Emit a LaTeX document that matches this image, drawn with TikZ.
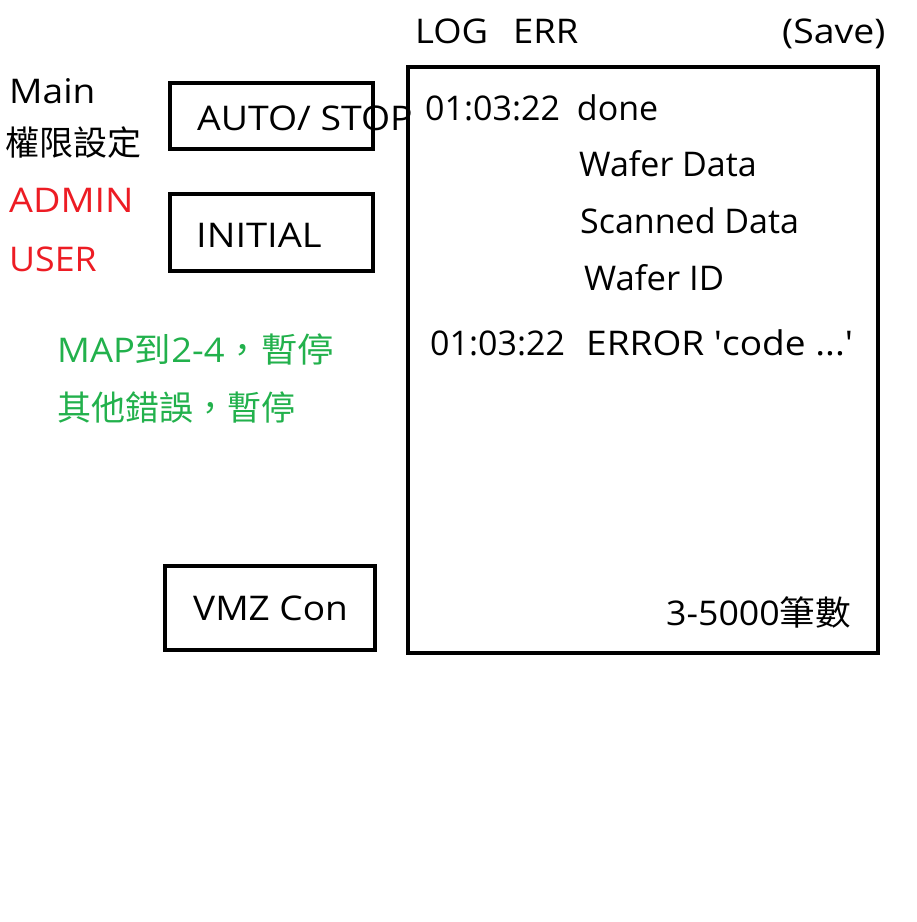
\documentclass[tikz,border=0pt]{standalone}
\usepackage{fontspec}
\setmainfont{Open Sans}
\newfontfamily\cjk{Noto Sans CJK TC}
\definecolor{pred}{HTML}{ED1C24}
\definecolor{pgreen}{HTML}{22B14C}
\newcommand{\widen}[2]{\scalebox{#1}[1]{#2}}
\begin{document}
\begin{tikzpicture}[x=1pt,y=-1pt,
  box/.style={draw=black,line width=4pt,rectangle,inner sep=0pt},
  txt/.style={anchor=base west,inner sep=0pt,font=\fontsize{34}{40}\selectfont}]
\useasboundingbox (0,0) rectangle (917,922);
\fill[white] (0,0) rectangle (917,922);
% boxes
\node[box,minimum width=203pt,minimum height=66pt] (auto) at (271.5,115.5) {};
\node[box,minimum width=203pt,minimum height=77pt] (init) at (271.5,232) {};
\node[box,minimum width=210pt,minimum height=84pt] (vmz) at (270,607.5) {};
\node[box,minimum width=470pt,minimum height=586pt] (log) at (643,360) {};
% left texts
\node[txt] (main) at (9,103) {\widen{1.09}{Main}};
\node[txt] (perm) at (5,155) {\cjk 權限設定};
\node[txt,text=pred] (admin) at (9,212) {\widen{1.11}{ADMIN}};
\node[txt,text=pred] (user) at (9,271) {\widen{1.05}{USER}};
\node[txt,text=pgreen] (map) at (57,362) {\widen{1.07}{MAP{\cjk 到}2-4{\cjk ，暫停}}};
\node[txt,text=pgreen] (other) at (57,420) {\cjk 其他錯誤，暫停};
% button labels
\node[txt] (autot) at (197,130) {\widen{1.10}{AUTO/ STOP}};
\node[txt] (initt) at (196,247) {\widen{1.12}{INITIAL}};
\node[txt] (vmzt) at (193,620) {\widen{1.09}{VMZ Con}};
% header
\node[txt] (logt) at (415,43) {\widen{1.07}{LOG}};
\node[txt] (errt) at (513,43) {\widen{1.07}{ERR}};
\node[txt] (save) at (782,43) {\widen{1.10}{(Save)}};
% log contents
\node[txt] (l1) at (425,120) {01:03:22\hspace{0.5em}done};
\node[txt] (l2) at (579,176) {Wafer Data};
\node[txt] (l3) at (580,233) {Scanned Data};
\node[txt] (l4) at (584,290) {\widen{1.02}{Wafer ID}};
\node[txt] (l5a) at (430,355) {01:03:22};
\node[txt] (l5b) at (586,355) {\widen{1.09}{ERROR \textquotesingle code ...\textquotesingle}};
\node[txt] (cnt) at (666,625) {\widen{1.05}{3-5000{\cjk 筆數}}};
\end{tikzpicture}
\end{document}
